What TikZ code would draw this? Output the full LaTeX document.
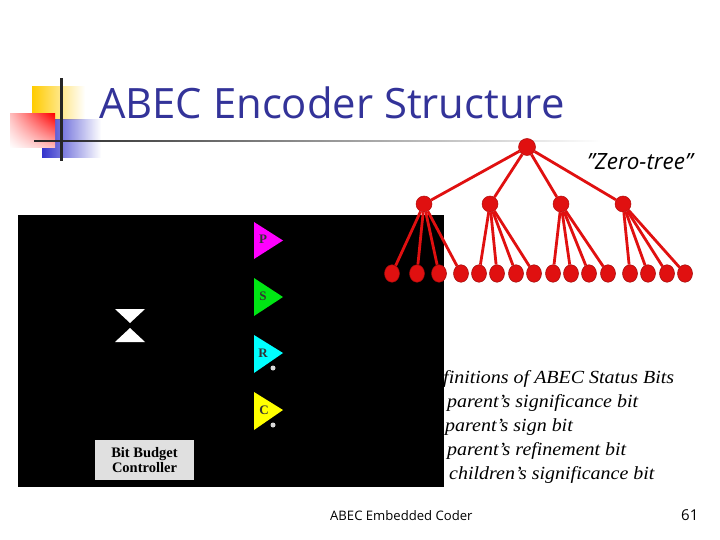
\documentclass[tikz,border=0pt]{standalone}
\usepackage{graphicx}
\usepackage{fontspec}
\setmainfont{Open Sans}
\newfontfamily\serifit{Liberation Serif}
\newcommand{\widestat}[1]{\scalebox{1.08}[1]{#1}}
\usetikzlibrary{fadings,shadings,shapes.geometric}
\definecolor{titleblue}{HTML}{333399}
\definecolor{treered}{HTML}{E01010}
\definecolor{budget}{HTML}{E0E0E0}
\definecolor{logoyellow}{HTML}{FFCC00}
\definecolor{logoblue}{HTML}{3333CC}
\definecolor{trigreen}{HTML}{00E614}
\definecolor{trimagenta}{RGB}{255,0,255}
\definecolor{tricyan}{RGB}{0,255,255}
\definecolor{triyellow}{RGB}{255,255,0}
\tikzfading[name=fadeR,left color=transparent!0,right color=transparent!100]
\tikzfading[name=fadeS,left color=transparent!0,middle color=transparent!0,right color=transparent!100]
\tikzset{
  rootdot/.style={circle,fill=treered,draw=treered!80!black,line width=.5pt,minimum size=17pt,inner sep=0pt},
  middot/.style={circle,fill=treered,draw=treered!80!black,line width=.5pt,minimum size=16pt,inner sep=0pt},
  leafdot/.style={ellipse,fill=treered,draw=treered!70!black,line width=.5pt,minimum width=15pt,minimum height=17.5pt,inner sep=0pt},
  treeedge/.style={draw=treered,line width=2.8pt},
  triletter/.style={font=\serifit\bfseries\fontsize{13}{13}\selectfont,text=black!80,inner sep=0pt},
  stat/.style={font=\serifit\itshape\fontsize{18.5}{18.5}\selectfont,anchor=base west,inner sep=0pt},
  greydot/.style={circle,fill=black!15,minimum size=5pt,inner sep=0pt}
}
\begin{document}
\begin{tikzpicture}[x=1pt,y=-1pt]
\useasboundingbox (0,0) rectangle (720,540);
\fill[white] (0,0) rectangle (720,540);
% logo
\fill[logoyellow,path fading=fadeS] (32,86) rectangle (85,120);
\fill[logoblue,path fading=fadeS] (42,119) rectangle (101,158);
\shade[lower left=white,upper right=red,upper left=red!25!white,lower right=red!25!white] (10,114) rectangle (55,148);
\fill[black!85] (60,78) rectangle (62.5,161);
\fill[black!85,path fading=fadeR] (34,139.8) rectangle (600,142.2);
% title
\node[anchor=base west,inner sep=0pt,text=titleblue,font=\fontsize{41.8}{41.8}\selectfont] (title) at (99,119) {ABEC Encoder Structure};
\node[anchor=base west,inner sep=0pt,font=\itshape\fontsize{22.4}{22.4}\selectfont] (zt) at (587,170) {"Zero-tree"};
% status text, partly hidden by the black panel
\node[stat] (s0) at (443,383) {\widestat{finitions of ABEC Status Bits}};
\node[stat] (s1) at (447,407) {\widestat{parent’s significance bit}};
\node[stat] (s2) at (445,431) {\widestat{parent’s sign bit}};
\node[stat] (s3) at (447,455) {\widestat{parent’s refinement bit}};
\node[stat] (s4) at (449,479) {\widestat{children’s significance bit}};
% panel
\fill[black] (18,215) rectangle (444,487);
\fill[trimagenta] (254,222) -- (254,259) -- (283,240.5) -- cycle;
\fill[trigreen] (254,278) -- (254,316) -- (283,297) -- cycle;
\fill[tricyan] (254,335) -- (254,373) -- (283,353) -- cycle;
\fill[triyellow] (254,392) -- (254,430) -- (283,410) -- cycle;
\node[triletter] (lp) at (263,239.5) {P};
\node[triletter] (ls) at (263,296) {S};
\node[triletter] (lr) at (263,353) {R};
\node[triletter] (lc) at (264,410) {C};
\node[greydot] (dr) at (273,368) {};
\node[greydot] (dc) at (273,425) {};
\fill[white] (115,309) -- (145,309) -- (130,323) -- cycle;
\fill[white] (115,342) -- (145,342) -- (130,328) -- cycle;
\node[fill=budget,minimum width=99pt,minimum height=40pt,inner sep=0pt,align=center,font=\serifit\bfseries\fontsize{14.5}{15}\selectfont] (bbc) at (144.5,460) {Bit Budget\\Controller};
% tree
\foreach \m/\x in {a/424,b/490,c/561,d/623} \node[middot] (\m) at (\x,204) {};
\node[rootdot] (r) at (527,147) {};
\foreach \n/\x in {1/392,2/417,3/439,4/461,5/479,6/497,7/516,8/534,9/553,10/571,11/589,12/608,13/630,14/648,15/667,16/685}
  \node[leafdot] (l\n) at (\x,273.5) {};
\foreach \m in {a,b,c,d} \draw[treeedge] (r) -- (\m);
\foreach \l in {1,2,3,4} \draw[treeedge] (a) -- (l\l);
\foreach \l in {5,6,7,8} \draw[treeedge] (b) -- (l\l);
\foreach \l in {9,10,11,12} \draw[treeedge] (c) -- (l\l);
\foreach \l in {13,14,15,16} \draw[treeedge] (d) -- (l\l);
% footer
\node[anchor=base west,inner sep=0pt,font=\fontsize{13.1}{13}\selectfont] (foot) at (330,520) {ABEC Embedded Coder};
\node[anchor=base west,inner sep=0pt,font=\fontsize{15}{15}\selectfont] (pg) at (681,520) {61};
\end{tikzpicture}
\end{document}
